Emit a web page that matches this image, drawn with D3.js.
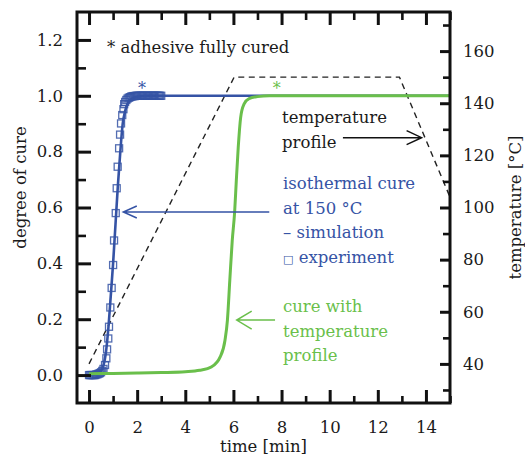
<!DOCTYPE html>
<html>
<head>
<meta charset="utf-8">
<script src="https://cdn.jsdelivr.net/npm/d3@7"></script>
<style>
  body { margin: 0; background: #fff; }
  svg { display: block; font-family: "DejaVu Serif", serif; }
</style>
</head>
<body>
<svg width="525" height="456"></svg>
<script>
// isothermal cure at 150 °C, simulation
var simTime = [-0.1, 0, 0.2, 0.4, 0.5, 0.6, 0.7, 0.8, 0.9, 1.0, 1.1, 1.2, 1.3, 1.4, 1.5, 1.6, 1.8, 2.0, 2.5, 3, 15];
var simCure = [0, 0, 0.002, 0.008, 0.015, 0.035, 0.08, 0.165, 0.28, 0.40, 0.54, 0.68, 0.80, 0.90, 0.945, 0.972, 0.99, 0.997, 1, 1, 1];

// isothermal cure, experiment (squares)
var expTime = [0, 0.05, 0.1, 0.15, 0.2, 0.25, 0.3, 0.35, 0.4, 0.45, 0.5, 0.55, 0.6,
  0.665, 0.72, 0.75, 0.8, 0.83, 0.885, 0.94, 1.0, 1.04, 1.11, 1.15, 1.19, 1.25, 1.29, 1.33, 1.38, 1.43, 1.46,
  1.5, 1.55, 1.6, 1.65, 1.7, 1.75, 1.8, 1.85, 1.9, 1.95, 2.0, 2.05, 2.1, 2.15, 2.2, 2.25, 2.3, 2.35, 2.4,
  2.45, 2.5, 2.55, 2.6, 2.65, 2.7, 2.75, 2.8, 2.85, 2.9, 2.95, 3.0];
var expCure = [0, 0, 0, 0, 0, 0, 0.002, 0.003, 0.005, 0.007, 0.01, 0.015, 0.022,
  0.036, 0.06, 0.092, 0.131, 0.173, 0.242, 0.312, 0.394, 0.482, 0.58, 0.669, 0.746, 0.812, 0.861, 0.901, 0.931, 0.952, 0.97,
  0.978, 0.985, 0.99, 0.993, 0.995, 0.997, 0.998, 0.999, 0.999, 1, 1, 1, 1, 1, 1, 1, 1, 1, 1,
  1, 1, 1, 1, 1, 1, 1, 1, 1, 1, 1, 1];

// cure with temperature profile
var profTime = [0, 1, 2, 3, 4, 4.6, 5.1, 5.45, 5.65, 5.75, 5.85, 5.95, 6.05, 6.12, 6.2, 6.3, 6.44, 6.65, 7.0, 7.5, 10, 15];
var profCure = [0.005, 0.006, 0.007, 0.009, 0.012, 0.017, 0.03, 0.065, 0.125, 0.196, 0.34, 0.48, 0.583, 0.696, 0.815, 0.922, 0.97, 0.99, 0.997, 1, 1, 1];

// temperature profile (dashed, right axis)
var tempTime = [0, 6.03, 12.9, 15];
var tempValue = [40, 150, 150, 104];

// ticks
var xTicks = [0, 2, 4, 6, 8, 10, 12, 14];
var xMinor = [1, 3, 5, 7, 9, 11, 13, 15];
var yTicks = [0, 0.2, 0.4, 0.6, 0.8, 1.0, 1.2];
var yMinor = [0.1, 0.3, 0.5, 0.7, 0.9, 1.1];
var tTicks = [40, 60, 80, 100, 120, 140, 160];
var tMinor = [30, 50, 70, 90, 110, 130, 150, 170];

var blue = "#3553a5",
    green = "#6abf4b";

var margin = { left: 77, top: 12, right: 75, bottom: 53 },
    width = 525 - margin.left - margin.right,
    height = 456 - margin.top - margin.bottom;

var svg = d3.select("svg");
var g = svg.append("g")
    .attr("transform", "translate(" + margin.left + "," + margin.top + ")");

var xScale = d3.scaleLinear().domain([-0.5, 15]).range([0, width]);
var yScale = d3.scaleLinear().domain([-0.1, 1.3]).range([height, 0]);
var tScale = d3.scaleLinear().domain([25, 175]).range([height, 0]);

// clip so curves stay inside the frame
g.append("clipPath").attr("id", "clip")
    .append("rect").attr("width", width).attr("height", height);
var plot = g.append("g").attr("clip-path", "url(#clip)");

// temperature profile
var tempLine = d3.line()
    .x((d, i) => xScale(tempTime[i]))
    .y(d => tScale(d));
plot.append("path")
    .attr("d", tempLine(tempValue))
    .attr("fill", "none")
    .attr("stroke", "#222")
    .attr("stroke-width", 1.4)
    .attr("stroke-dasharray", "6,4.5");

// simulation line
var simLine = d3.line()
    .x((d, i) => xScale(simTime[i]))
    .y(d => yScale(d))
    .curve(d3.curveMonotoneX);
plot.append("path")
    .attr("d", simLine(simCure))
    .attr("fill", "none")
    .attr("stroke", blue)
    .attr("stroke-width", 2.6);

// experiment squares
plot.selectAll("rect.exp")
    .data(expCure)
    .join("rect")
    .attr("class", "exp")
    .attr("x", (d, i) => xScale(expTime[i]) - 3.5)
    .attr("y", d => yScale(d) - 3.5)
    .attr("width", 7)
    .attr("height", 7)
    .attr("fill", "none")
    .attr("stroke", blue)
    .attr("stroke-opacity", 0.85)
    .attr("stroke-width", 1.3);

// green curve
var profLine = d3.line()
    .x((d, i) => xScale(profTime[i]))
    .y(d => yScale(d))
    .curve(d3.curveMonotoneX);
plot.append("path")
    .attr("d", profLine(profCure))
    .attr("fill", "none")
    .attr("stroke", green)
    .attr("stroke-width", 3);

// axes: ticks point inward, labels outside
function styleAxis(sel, w) {
    sel.select(".domain").remove();
    sel.selectAll("line").attr("stroke", "#111").attr("stroke-width", w);
    sel.selectAll("text").attr("font-family", "DejaVu Serif, serif").attr("font-size", 16.5).attr("fill", "#1a1a1a");
}

g.append("g").attr("transform", "translate(0," + height + ")")
    .call(d3.axisBottom(xScale).tickValues(xTicks).tickSize(-13).tickPadding(18.5).tickFormat(d3.format("d")))
    .call(s => styleAxis(s, 3));
g.append("g").attr("transform", "translate(0," + height + ")")
    .call(d3.axisBottom(xScale).tickValues(xMinor).tickSize(-7).tickFormat(""))
    .call(s => styleAxis(s, 2.6));
g.append("g")
    .call(d3.axisTop(xScale).tickValues(xTicks).tickSize(-13).tickFormat(""))
    .call(s => styleAxis(s, 3));
g.append("g")
    .call(d3.axisTop(xScale).tickValues(xMinor).tickSize(-8).tickFormat(""))
    .call(s => styleAxis(s, 2.6));

g.append("g")
    .call(d3.axisLeft(yScale).tickValues(yTicks).tickSize(-14).tickPadding(14).tickFormat(d3.format(".1f")))
    .call(s => styleAxis(s, 3));
g.append("g")
    .call(d3.axisLeft(yScale).tickValues(yMinor).tickSize(-9).tickFormat(""))
    .call(s => styleAxis(s, 2.6));

g.append("g").attr("transform", "translate(" + width + ",0)")
    .call(d3.axisRight(tScale).tickValues(tTicks).tickSize(-10).tickPadding(13).tickFormat(d3.format("d")))
    .call(s => styleAxis(s, 3));
g.append("g").attr("transform", "translate(" + width + ",0)")
    .call(d3.axisRight(tScale).tickValues(tMinor).tickSize(-7).tickFormat(""))
    .call(s => styleAxis(s, 2.6));

// frame
g.append("rect")
    .attr("width", width).attr("height", height)
    .attr("fill", "none").attr("stroke", "#111").attr("stroke-width", 3);

// axis titles
svg.append("text")
    .attr("transform", "translate(26," + (margin.top + height / 2 - 20) + ") rotate(-90)")
    .attr("text-anchor", "middle").attr("font-size", 16.5).attr("fill", "#1a1a1a")
    .text("degree of cure");
svg.append("text")
    .attr("transform", "translate(521," + (margin.top + height / 2) + ") rotate(-90)")
    .attr("text-anchor", "middle").attr("font-size", 16.5).attr("fill", "#1a1a1a")
    .text("temperature [°C]");
svg.append("text")
    .attr("x", margin.left + width / 2).attr("y", 452)
    .attr("text-anchor", "middle").attr("font-size", 16.5).attr("fill", "#1a1a1a")
    .text("time [min]");

// annotations
function label(x, y, lines, color) {
    var t = g.append("text").attr("font-size", 16.5).attr("fill", color);
    lines.forEach((s, i) => {
        var ts = t.append("tspan").attr("x", x).attr("y", y + i * 24.5);
        if (s.charAt(0) === "□") {
            ts.append("tspan").attr("font-size", 11).text("□");
            ts.append("tspan").text(s.slice(1));
        } else {
            ts.text(s);
        }
    });
}
label(30, 41, ["* adhesive fully cured"], "#1a1a1a");
g.append("text").attr("x", xScale(2.2)).attr("y", yScale(1.0) - 2)
    .attr("text-anchor", "middle").attr("font-size", 16).attr("fill", blue).text("*");
g.append("text").attr("x", xScale(7.8)).attr("y", yScale(1.0) - 2)
    .attr("text-anchor", "middle").attr("font-size", 16).attr("fill", green).text("*");

label(205, 111, ["temperature", "profile"], "#1a1a1a");
label(206, 177, ["isothermal cure", "at 150 °C", "– simulation", "□ experiment"], blue);
label(206, 300, ["cure with", "temperature", "profile"], green);

// arrows
function arrow(x0, y0, x1, y1, color, len, half) {
    var a = Math.atan2(y1 - y0, x1 - x0);
    var p = d3.path();
    p.moveTo(x0, y0); p.lineTo(x1, y1);
    p.moveTo(x1 - len * Math.cos(a) + half * Math.sin(a), y1 - len * Math.sin(a) - half * Math.cos(a));
    p.lineTo(x1, y1);
    p.lineTo(x1 - len * Math.cos(a) - half * Math.sin(a), y1 - len * Math.sin(a) + half * Math.cos(a));
    g.append("path").attr("d", p.toString())
        .attr("fill", "none").attr("stroke", color).attr("stroke-width", 1.5);
}
arrow(xScale(10.55), tScale(126.8), xScale(13.82), tScale(126.8), "#111", 15, 7);
arrow(xScale(7.49), yScale(0.584), xScale(1.424), yScale(0.584), blue, 13.5, 6);
arrow(xScale(7.73), yScale(0.197), xScale(6.136), yScale(0.197), green, 15, 9);
</script>
</body>
</html>
